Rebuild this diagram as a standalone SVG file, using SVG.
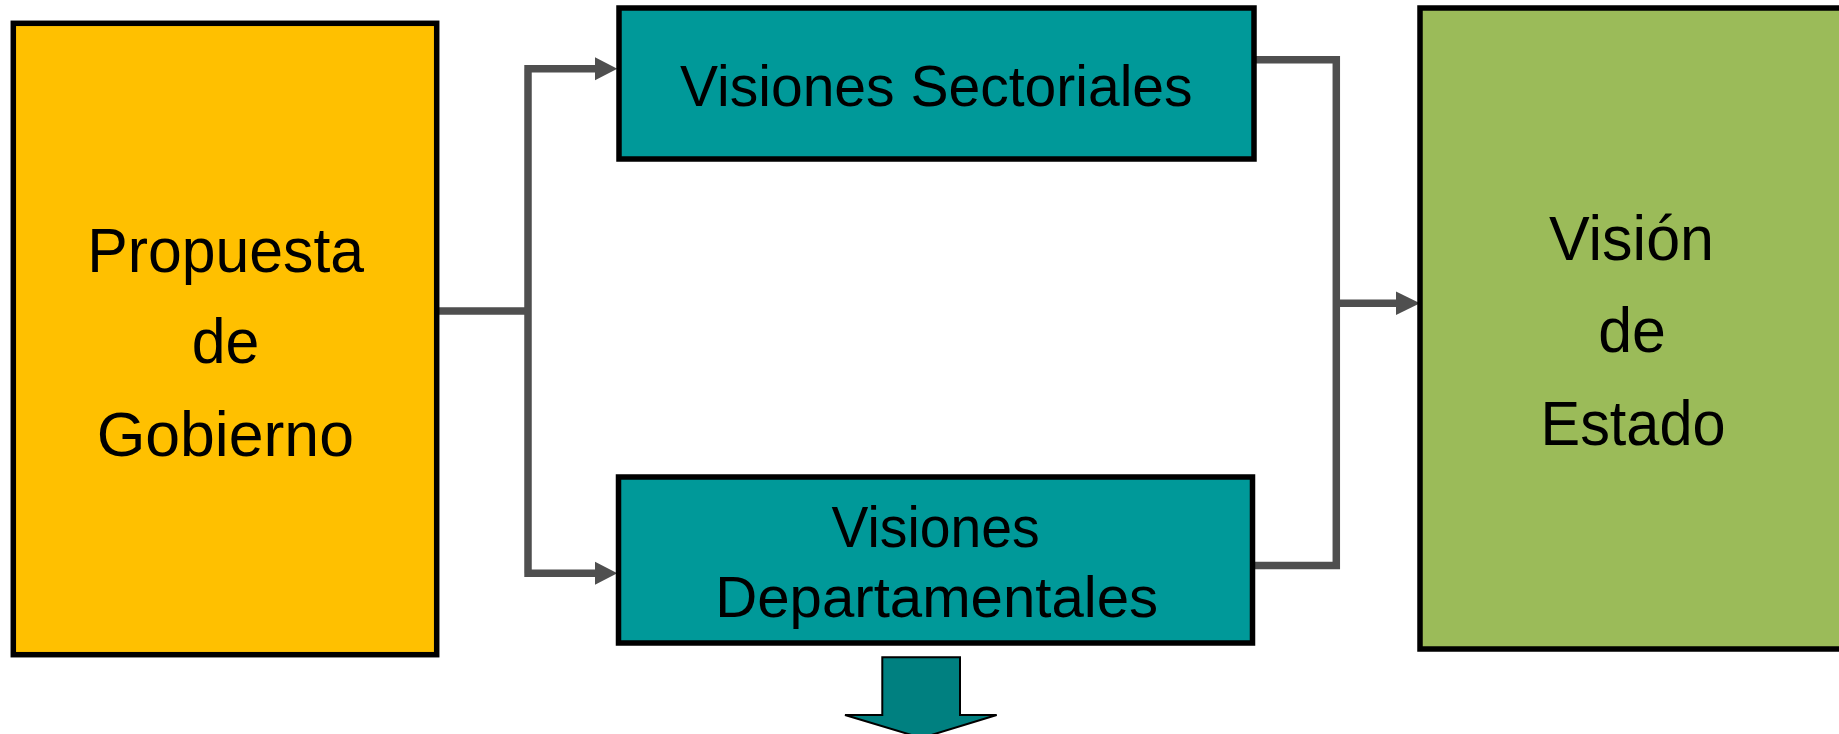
<svg xmlns="http://www.w3.org/2000/svg" width="1839" height="734" viewBox="0 0 1839 734">
<style>
.box{stroke:#000;stroke-width:5.5}
.lbl{font-family:"Liberation Sans",Arial,sans-serif;fill:#000;text-anchor:middle}
.big{font-size:63px}
.mid{font-size:58px}
.conn{fill:none;stroke:#4f4f4f;stroke-width:7.5;stroke-linejoin:miter}
.head{fill:#4f4f4f}
</style>
<rect width="1839" height="734" fill="#fff"/>
<g id="connectors">
  <path class="conn" d="M436.7 311 H528 M528 68.8 V573.3 M524.3 68.8 H596 M524.3 573.3 H596"/>
  <polygon class="head" points="595,57.3 617.3,68.8 595,80.3"/>
  <polygon class="head" points="595,561.8 617.3,573.3 595,584.8"/>
  <path class="conn" d="M1253.3 59.7 H1336.3 V565.5 H1253.3 M1336.3 303.3 H1397"/>
  <polygon class="head" points="1396,291.6 1420,303.3 1396,315"/>
</g>
<g id="propuesta">
  <rect class="box" x="13.3" y="23.3" width="423.4" height="631.4" fill="#FFC000"/>
  <text class="lbl big" x="225.7" y="271.7" textLength="276.7" lengthAdjust="spacingAndGlyphs">Propuesta</text>
  <text class="lbl big" x="225.5" y="363.3" textLength="67.6" lengthAdjust="spacingAndGlyphs">de</text>
  <text class="lbl big" x="225.3" y="456" textLength="257.3" lengthAdjust="spacingAndGlyphs">Gobierno</text>
</g>
<g id="visiones-sectoriales">
  <rect class="box" x="619" y="8" width="635" height="151" fill="#009999"/>
  <text class="lbl mid" x="936.3" y="106" textLength="512.5" lengthAdjust="spacingAndGlyphs">Visiones Sectoriales</text>
</g>
<g id="visiones-departamentales">
  <rect class="box" x="618.5" y="477" width="634" height="166" fill="#009999"/>
  <text class="lbl mid" x="935.6" y="546.7" textLength="208" lengthAdjust="spacingAndGlyphs">Visiones</text>
  <text class="lbl mid" x="936.7" y="616.7" textLength="443" lengthAdjust="spacingAndGlyphs">Departamentales</text>
</g>
<g id="vision-estado">
  <rect class="box" x="1420" y="8" width="425" height="641" fill="#9BBB59"/>
  <text class="lbl big" x="1631.5" y="260" textLength="165" lengthAdjust="spacingAndGlyphs">Visión</text>
  <text class="lbl big" x="1632" y="351.7" textLength="67.7" lengthAdjust="spacingAndGlyphs">de</text>
  <text class="lbl big" x="1633" y="445" textLength="185" lengthAdjust="spacingAndGlyphs">Estado</text>
</g>
<g id="down-arrow">
  <polygon points="882.3,657.3 960,657.3 960,715 996.7,715 921.5,738 845,715 882.3,715" fill="#008080" stroke="#000" stroke-width="2"/>
</g>
</svg>
